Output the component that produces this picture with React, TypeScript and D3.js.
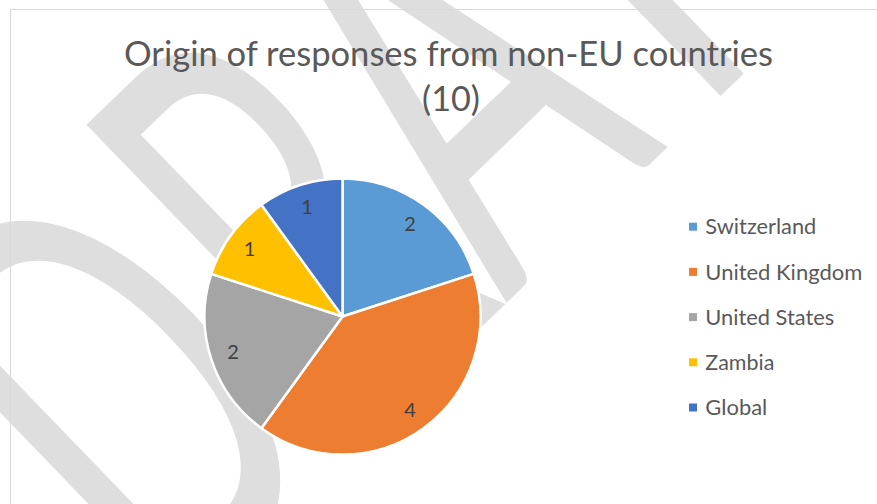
import React from "react";
import * as d3 from "d3";

const categories = ["Switzerland", "United Kingdom", "United States", "Zambia", "Global"];
const values = [2, 4, 2, 1, 1];
const colors = ["#5B9BD5", "#ED7D31", "#A5A5A5", "#FFC000", "#4472C4"];
const titleLines = ["Origin of responses from non-EU countries", "(10)"];
const watermarkText = "DRAFT";

const W = 877;
const H = 504;

export default function App() {
  const cx = 342.5;
  const cy = 316.5;
  const r = 138;
  const pie = d3.pie<number>().sort(null).value((d) => d)(values);
  const arc = d3.arc<d3.PieArcDatum<number>>().innerRadius(0).outerRadius(r);
  const labelArc = d3.arc<d3.PieArcDatum<number>>().innerRadius(115).outerRadius(115);

  const legendY = d3.scalePoint<string>().domain(categories).range([226.7, 407.5]);
  const legendLen = [111, 157, 129, 69, 62];

  // watermark layout (letters placed along a rotated baseline)
  const wmSx = 0.57;
  const wmPos = [0, 262, 470, 738, 925].map((p) => p / wmSx).join(" ");

  return (
    <svg
      width={W}
      height={H}
      style={{ position: "absolute", left: 0, top: 0, background: "#fff" }}
      fontFamily="Lato, 'Open Sans', sans-serif"
    >
      <rect x={0} y={0} width={W} height={H} fill="#fff" />
      <g transform={`translate(167.7,630) rotate(-44) scale(${wmSx},1)`}>
        <text x={wmPos} y={0} fontSize={586} fill="#dedede" fontFamily="Lato, sans-serif">
          {watermarkText}
        </text>
      </g>
      <rect x={10.5} y={9.5} width={900} height={600} fill="none" stroke="#d9d9d9" strokeWidth={1} />

      <g fill="#595959" textAnchor="middle" fontWeight={400}>
        <text x={448.5} y={66} fontSize={34.5} textLength={649} lengthAdjust="spacingAndGlyphs">
          {titleLines[0]}
        </text>
        <text x={451} y={110.5} fontSize={34.5} textLength={58} lengthAdjust="spacingAndGlyphs">
          {titleLines[1]}
        </text>
      </g>

      <g transform={`translate(${cx},${cy})`}>
        {pie.map((p, i) => (
          <path key={categories[i]} d={arc(p) || ""} fill={colors[i]} stroke="#fff" strokeWidth={2.5} strokeLinejoin="round" />
        ))}
        {pie.map((p, i) => {
          const [lx, ly] = labelArc.centroid(p);
          return (
            <text key={"l" + i} x={lx} y={ly} dy="0.36em" textAnchor="middle" fontSize={20} fill="#404040">
              {values[i]}
            </text>
          );
        })}
      </g>

      <g>
        {categories.map((c, i) => {
          const y = legendY(c) || 0;
          return (
            <g key={c}>
              <rect x={689} y={y - 4} width={8} height={8} fill={colors[i]} />
              <text x={705.3} y={y} dy="0.36em" fontSize={21.5} fill="#595959" textLength={legendLen[i]} lengthAdjust="spacingAndGlyphs">
                {c}
              </text>
            </g>
          );
        })}
      </g>
    </svg>
  );
}
